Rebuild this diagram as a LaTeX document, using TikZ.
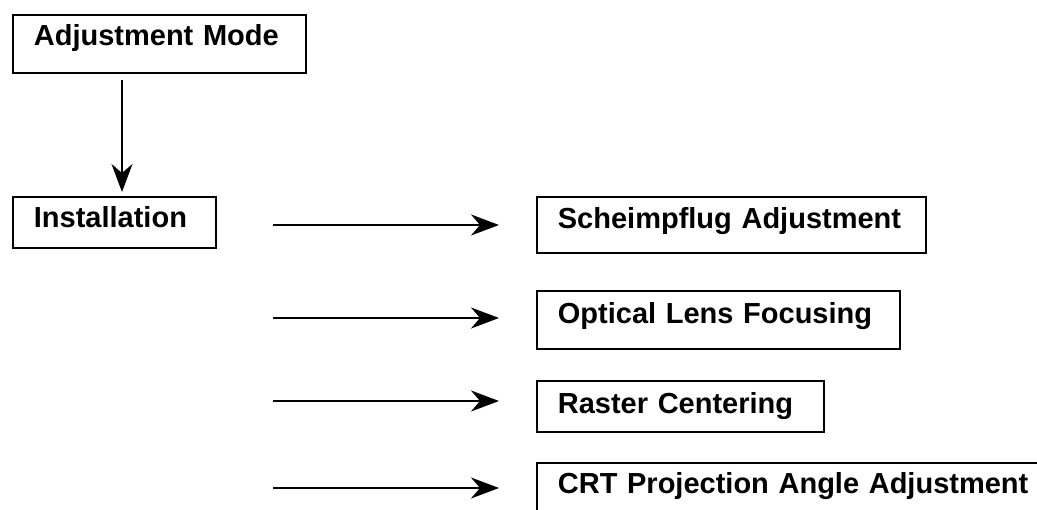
\documentclass[tikz,border=0pt]{standalone}
\usepackage{fontspec}
\setmainfont{Liberation Sans}
\usetikzlibrary{arrows.meta}
\begin{document}
\begin{tikzpicture}[x=1pt,y=1pt,
  box/.style={draw, line width=1.8pt, anchor=north west, inner xsep=21pt, inner ysep=0pt,
    align=left, font=\fontsize{29}{34}\selectfont\bfseries},
  arr/.style={line width=1.8pt, -{Stealth[length=28pt,width=21pt,inset=9pt]}}]
\clip (0,0) rectangle (1037,-510);
\fill[white] (0,0) rectangle (1037,-510);
\node[box, text width=251pt, text height=31pt, text depth=27pt] (am) at (12,-14) {Adjustment Mode};
\node[box, text width=161pt, text height=31pt, text depth=20pt] (inst) at (12,-196) {Installation};
\node[box, text width=347pt, text height=32pt, text depth=24pt] (sch) at (536,-196) {Scheimpflug Adjustment};
\node[box, text width=321pt, text height=33pt, text depth=25pt] (opt) at (536,-290) {Optical Lens Focusing};
\node[box, text width=245pt, text height=33pt, text depth=18pt] (ras) at (536,-380) {Raster Centering};
\node[box, text width=478pt, text height=31pt, text depth=26pt] (crt) at (536,-462) {CRT Projection Angle Adjustment};
\coordinate (d1) at (122,-80);
\coordinate (d2) at (122,-192);
\draw[arr] (d1) -- (d2);
\foreach \n/\y in {1/225,2/318,3/401,4/488}{
  \coordinate (s\n) at (273,-\y);
  \coordinate (e\n) at (499,-\y);
  \draw[arr] (s\n) -- (e\n);
}
\end{tikzpicture}
\end{document}
